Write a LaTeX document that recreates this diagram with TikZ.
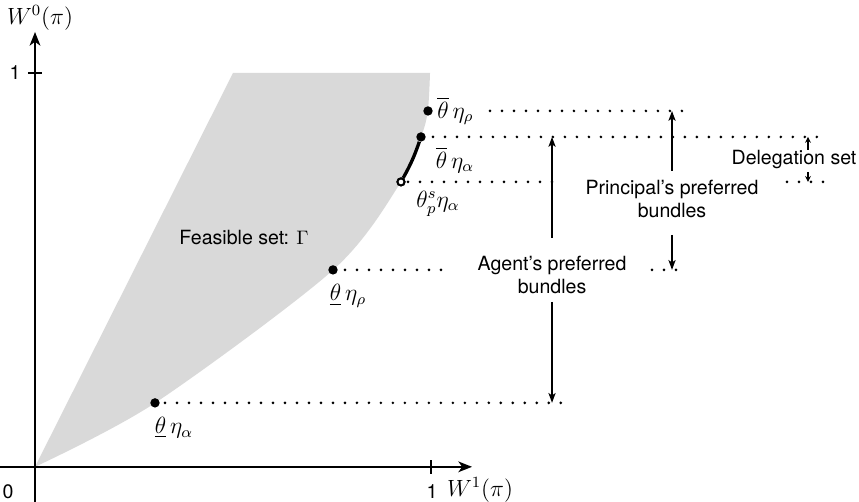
\documentclass[tikz,border=0pt]{standalone}
\usepackage{fontspec}
\setmainfont{TeX Gyre Heros}
\usepackage{amsmath}
\usetikzlibrary{arrows.meta}
\definecolor{grigio}{gray}{0.85}
\tikzset{
  feas/.style={fill=grigio},
  axis/.style={line width=0.8pt,-{Stealth[length=7pt,width=5.5pt,inset=2pt]}},
  pt/.style={circle,fill=black,inner sep=0pt,minimum size=4.8pt},
  opt/.style={circle,draw=black,fill=white,line width=1pt,inner sep=0pt,minimum size=3.6pt},
  dots/.style={line width=1.5pt,line cap=round,dash pattern=on 0pt off 6.13pt},
  arr/.style={line width=1.1pt,-{Stealth[length=5pt,width=3.6pt,inset=1.2pt]}},
  arrsmall/.style={line width=0.8pt,-{Stealth[length=3pt,width=3pt,inset=1pt]}},
  txt/.style={align=center,inner sep=0pt},
  lab/.style={inner sep=0.5pt,font=\large}
}

\begin{document}
\begin{tikzpicture}[x=202.4pt,y=201.3pt]
  \useasboundingbox (-0.0884,-0.0888) rectangle (2.0808,1.1853);
  % Insieme ammissibile
  \fill[feas] (0,0) -- (0.5,1) -- plot[smooth] coordinates
    {(0.9975,1) (0.992,0.904) (0.975,0.838) (0.924,0.723) (0.753,0.5) (0.303,0.162) (0,0)} -- cycle;
  \node[txt] (feas) at (0.5278,0.5812) {Feasible set: $\Gamma$};
  % Assi
  \draw[axis] (0,-0.0888) -- (0,1.1041);
  \draw[axis] (-0.0884,0) -- (1.1035,0);
  \draw[line width=0.8pt] (-0.0177,1) -- (0.0177,1);
  \draw[line width=0.8pt] (1,-0.0178) -- (1,0.0178);
  \node (zero) at (-0.0682,-0.0635) {0};
  \node (unox) at (1.0025,-0.0635) {1};
  \node (unoy) at (-0.0505,1) {1};
  \node[lab] (w0) at (0.0126,1.1396) {$W^0(\pi)$};
  \node[lab] (w1) at (1.1237,-0.0584) {$W^1(\pi)$};
  % Colonne delle frecce
  \coordinate (agX) at (1.3056,0);
  \coordinate (prX) at (1.6086,0);
  \coordinate (dlX) at (1.952,0);
  % Insieme di delega
  \node[opt] (pS) at (0.9242,0.7234) {};
  \node[pt] (bA) at (0.9747,0.8376) {};
  \draw[line width=1.7pt] (pS) to[bend right=5] (bA);
  \node[opt] at (pS) {};
  \node[pt] (bR) at (0.9924,0.9036) {};
  \node[pt] (uR) at (0.7525,0.5) {};
  \node[pt] (uA) at (0.303,0.1624) {};
  % Etichette
  \node[lab,anchor=west] (lbR) at (1.0126,0.9036) {$\overline{\theta}\,\eta_\rho$};
  \node[lab] (lbA) at (1.0606,0.7792) {$\overline{\theta}\,\eta_\alpha$};
  \node[lab] (lpS) at (1.0176,0.668) {$\theta_p^s\eta_\alpha$};
  \node[lab] (luR) at (0.7904,0.434) {$\underline{\theta}\,\eta_\rho$};
  \node[lab] (luA) at (0.351,0.099) {$\underline{\theta}\,\eta_\alpha$};
  % Puntini
  \draw[dots] (1.149,0.9036) -- (1.6338,0.9036);
  \draw[dots] (1.005,0.8376) -- (1.995,0.8376);
  \draw[dots] (0.942,0.7234) -- (agX |- pS);
  \draw[dots] (1.899,0.7234) -- (2.0025,0.7234);
  \draw[dots] (0.7828,0.5) -- (1.053,0.5);
  \draw[dots] (1.558,0.5) -- (1.6465,0.5);
  \draw[dots] (0.3283,0.1624) -- (1.3434,0.1624);
  % Frecce
  \node[txt] (agent) at (1.3056,0.4873) {Agent's preferred\\bundles};
  \draw[arr] (1.3056,0.5812) -- (agX |- bA);
  \draw[arr] (1.3056,0.4188) -- (agX |- uA);
  \node[txt] (princ) at (1.6086,0.680) {Principal's preferred\\bundles};
  \draw[arr] (1.6086,0.7513) -- (prX |- bR);
  \draw[arr] (1.6086,0.5888) -- (prX |- uR);
  \node[txt] (deleg) at (1.9167,0.7792) {Delegation set};
  \draw[arrsmall] (1.952,0.8046) -- (dlX |- bA);
  \draw[arrsmall] (1.952,0.7487) -- (dlX |- pS);
\end{tikzpicture}
\end{document}
